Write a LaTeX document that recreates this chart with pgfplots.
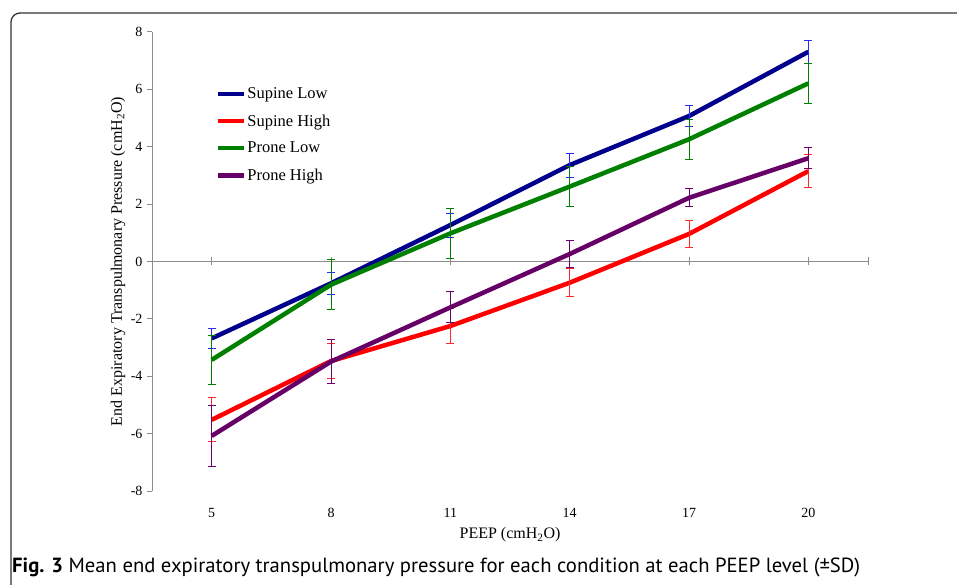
\documentclass[border=0pt]{standalone}
\usepackage{pgfplots}
\pgfplotsset{compat=1.18}
\usepackage{fontspec}
\setmainfont{Liberation Serif}
\newfontfamily\capfont{PT Sans}
\definecolor{cSL}{RGB}{0,0,140}
\definecolor{cSH}{RGB}{255,0,0}
\definecolor{cPL}{RGB}{0,128,0}
\definecolor{cPH}{RGB}{102,0,102}
\definecolor{eSL}{RGB}{40,40,255}
\definecolor{eSH}{RGB}{255,40,40}
\definecolor{ePL}{RGB}{0,128,0}
\definecolor{ePH}{RGB}{110,0,110}
\definecolor{axgray}{RGB}{140,140,140}

\pgfplotstableread{
x y e
5 -2.68 0.35
8 -0.76 0.38
11 1.27 0.42
14 3.36 0.42
17 5.07 0.37
20 7.31 0.40
}\supinelow
\pgfplotstableread{
x y e
5 -5.52 0.77
8 -3.47 0.61
11 -2.25 0.62
14 -0.74 0.48
17 0.96 0.48
20 3.15 0.58
}\supinehigh
\pgfplotstableread{
x y e
5 -3.43 0.85
8 -0.81 0.88
11 0.98 0.87
14 2.61 0.70
17 4.26 0.70
20 6.21 0.70
}\pronelow
\pgfplotstableread{
x y e
5 -6.08 1.05
8 -3.49 0.77
11 -1.60 0.54
14 0.26 0.47
17 2.22 0.32
20 3.60 0.37
}\pronehigh

\begin{document}
\begin{tikzpicture}[x=1pt,y=1pt]
\useasboundingbox (0,0) rectangle (957,584);
\draw[line width=1.3pt, rounded corners=9pt, black!80] (958,571) -- (11,571) -- (11,-1);
% zero line with crossing ticks
\begin{axis}[at={(152pt,93pt)}, anchor=south west, scale only axis,
  width=716pt, height=459pt, xmin=3.5, xmax=21.5, ymin=-8, ymax=8,
  axis x line=middle, axis y line=none, axis line style={-, axgray, line width=1pt},
  xtick={5,8,11,14,17,20,21.5}, xticklabels={}, tick align=center,
  major tick length=8pt, xtick style={axgray, line width=1pt}]
\end{axis}
\begin{axis}[at={(152pt,93pt)}, anchor=south west, scale only axis,
  width=716pt, height=459pt, xmin=3.5, xmax=21.5, ymin=-8, ymax=8,
  axis y line=left, axis x line=bottom,
  x axis line style={draw=none},
  y axis line style={-, axgray, line width=1pt},
  ytick={-8,-6,...,8}, xtick={5,8,11,14,17,20},
  tick align=outside, major tick length=5pt,
  ytick style={axgray, line width=1pt}, xtick style={draw=none},
  tick label style={font=\fontsize{14}{16}\selectfont},
  /pgf/number format/assume math mode=true,
  yticklabel style={xshift=-1pt},
  xticklabel style={yshift=-9pt},
  every axis y label/.style={at={(axis description cs:-0.0475,0.5)}, rotate=90, anchor=center, font=\fontsize{16}{18}\selectfont},
  every axis x label/.style={at={(axis description cs:0.5,-0.0959)}, anchor=center, font=\fontsize{16}{18}\selectfont},
  ylabel={End Expiratory Transpulmonary Pressure (cmH\textsubscript{2}O)},
  xlabel={PEEP (cmH\textsubscript{2}O)},
  legend style={draw=none, fill=none, at={(axis cs:5.1,6.1)}, anchor=north west,
    font=\fontsize{16.5}{18}\selectfont, row sep=12.5pt, inner sep=0pt,
    nodes={inner sep=1pt},
    /tikz/every even column/.append style={column sep=0pt}},
  legend cell align=left,
  legend image code/.code={\draw[#1, line width=4.5pt] (0pt,0pt) -- (26pt,0pt);},
  error bars/y dir=both, error bars/y explicit,
  error bars/error mark options={rotate=90, mark size=4pt, line width=1pt},
]
\addplot[cSL, line width=4.5pt, error bars/error bar style={eSL, line width=1pt}] table[x=x,y=y,y error=e] {\supinelow};
\addlegendentry{Supine Low}
\addplot[cSH, line width=4.5pt, error bars/error bar style={eSH, line width=1pt}] table[x=x,y=y,y error=e] {\supinehigh};
\addlegendentry{Supine High}
\addplot[cPL, line width=4.5pt, error bars/error bar style={ePL, line width=1pt}] table[x=x,y=y,y error=e] {\pronelow};
\addlegendentry{Prone Low}
\addplot[cPH, line width=4.5pt, error bars/error bar style={ePH, line width=1pt}] table[x=x,y=y,y error=e] {\pronehigh};
\addlegendentry{Prone High}
\end{axis}
\node[anchor=base west, inner sep=0pt] at (12,12) {\resizebox{848pt}{\height}{\capfont\fontsize{20.5}{22}\selectfont\textbf{Fig. 3} Mean end expiratory transpulmonary pressure for each condition at each PEEP level (±SD)}};
\end{tikzpicture}
\end{document}
